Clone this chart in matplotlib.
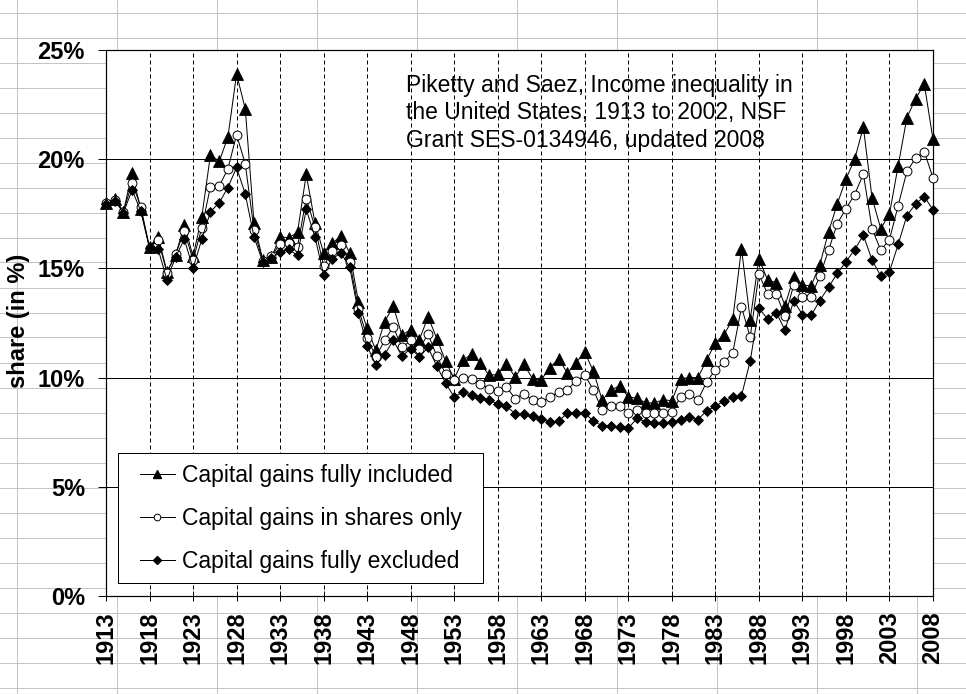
import matplotlib
matplotlib.use('Agg')
import matplotlib.pyplot as plt
from matplotlib.lines import Line2D
from matplotlib.patches import Rectangle
from matplotlib.ticker import FuncFormatter

plt.rcParams['font.family'] = ['Liberation Sans', 'DejaVu Sans']

years = list(range(1913, 2009))

cg_included = [
    18.0, 18.2, 17.6, 19.35, 17.7, 15.96, 16.45, 14.85, 15.6, 17.0,
    15.55, 17.35, 20.2, 19.9, 21.0, 23.9, 22.3, 17.1, 15.4, 15.5,
    16.45, 16.4, 16.65, 19.3, 17.1, 15.7, 16.15, 16.5, 15.7, 13.47,
    12.25, 11.25, 12.55, 13.27, 11.94, 12.2, 11.74, 12.78, 11.79, 10.76,
    9.95, 10.8, 11.07, 10.67, 10.1, 10.15, 10.61, 10.03, 10.61, 9.95,
    9.9, 10.46, 10.87, 10.2, 10.69, 11.16, 10.28, 8.96, 9.42, 9.63,
    9.12, 9.05, 8.85, 8.83, 8.99, 8.94, 9.95, 10.0, 10.0, 10.8,
    11.59, 11.97, 12.68, 15.91, 12.65, 15.45, 14.47, 14.35, 13.29, 14.62,
    14.24, 14.2, 15.17, 16.67, 17.95, 19.09, 20.0, 21.47, 18.23, 16.82,
    17.5, 19.7, 21.9, 22.77, 23.44, 20.91,
]

cg_shares = [
    18.0, 18.15, 17.6, 18.92, 17.82, 15.95, 16.3, 14.8, 15.65, 16.72,
    15.38, 16.85, 18.75, 18.77, 19.55, 21.12, 19.78, 16.77, 15.35, 15.55,
    16.12, 16.15, 16.0, 18.2, 16.9, 15.1, 15.8, 16.07, 15.3, 13.16,
    11.83, 10.95, 11.7, 12.32, 11.38, 11.7, 11.33, 11.99, 10.98, 10.18,
    9.9, 10.0, 9.95, 9.72, 9.5, 9.39, 9.57, 9.04, 9.27, 8.96,
    8.88, 9.11, 9.34, 9.44, 9.85, 10.1, 9.44, 8.5, 8.7, 8.72,
    8.4, 8.52, 8.38, 8.36, 8.38, 8.43, 9.1, 9.24, 8.98, 9.8,
    10.35, 10.71, 11.14, 13.23, 11.86, 14.74, 13.83, 13.83, 12.8, 14.24,
    13.71, 13.71, 14.65, 15.83, 17.05, 17.73, 18.38, 19.32, 16.82, 15.83,
    16.32, 17.88, 19.44, 20.05, 20.35, 19.14,
]

cg_excluded = [
    17.95, 18.1, 17.55, 18.59, 17.62, 15.92, 15.87, 14.47, 15.53, 16.33,
    15.0, 16.33, 17.6, 18.0, 18.7, 19.62, 18.4, 16.45, 15.3, 15.46,
    15.77, 15.87, 15.6, 17.7, 16.45, 14.7, 15.45, 15.7, 15.05, 12.94,
    11.45, 10.57, 11.05, 11.71, 10.98, 11.33, 10.95, 11.38, 10.52, 9.76,
    9.11, 9.34, 9.19, 9.08, 8.96, 8.8, 8.68, 8.35, 8.32, 8.24,
    8.12, 7.97, 8.01, 8.38, 8.4, 8.38, 8.0, 7.8, 7.78, 7.75,
    7.69, 8.13, 7.98, 7.93, 7.92, 7.95, 8.04, 8.18, 8.08, 8.48,
    8.68, 8.94, 9.09, 9.17, 10.76, 13.18, 12.68, 12.98, 12.17, 13.53,
    12.88, 12.85, 13.53, 14.14, 14.77, 15.3, 15.86, 16.52, 15.38, 14.65,
    14.85, 16.1, 17.42, 17.95, 18.29, 17.68,
]

series_labels = [
    "Capital gains fully included",
    "Capital gains in shares only",
    "Capital gains fully excluded",
]
y_ticks = [0, 5, 10, 15, 20, 25]
x_ticks = list(range(1913, 2009, 5))
y_label = "share (in %)"
note = ("Piketty and Saez, Income inequality in\n"
        "the United States, 1913 to 2002, NSF\n"
        "Grant SES-0134946, updated 2008")

W, H = 966, 694
PX = 72.0 / 100.0  # points per pixel at dpi 100


def fx(px):
    return px / W


def fy(py):
    return 1 - py / H


fig = plt.figure(figsize=(W / 100, H / 100), dpi=100)
fig.patch.set_facecolor('white')

# spreadsheet-like background grid
for k in range(28):
    yy = 12.5 + 25 * k
    fig.add_artist(Line2D([0, 1], [fy(yy), fy(yy)], transform=fig.transFigure,
                          color='#c4c4c4', lw=1 * PX, zorder=-5))
for k in range(10):
    xx = 17 + 100 * k
    fig.add_artist(Line2D([fx(xx), fx(xx)], [0, 1], transform=fig.transFigure,
                          color='#c4c4c4', lw=1 * PX, zorder=-5))

ax = fig.add_axes([fx(106), fy(596), fx(933) - fx(106), fy(50) - fy(596)])
ax.set_facecolor('white')
ax.set_xlim(1913, 2008)
ax.set_ylim(0, 25)

for s in ax.spines.values():
    s.set_color('black')
    s.set_linewidth(1.2 * PX)

ax.set_yticks(y_ticks)
ax.yaxis.set_major_formatter(FuncFormatter(lambda v, p: f"{int(v)}%"))
ax.set_xticks(x_ticks)
ax.set_xticklabels([str(x) for x in x_ticks], rotation=90)

ax.tick_params(axis='y', direction='out', length=8 * PX, width=1 * PX, pad=13 * PX,
               labelsize=17, colors='black')
ax.tick_params(axis='x', direction='inout', length=10 * PX, width=1 * PX, pad=10 * PX,
               labelsize=17, colors='black')
for lab in ax.get_xticklabels() + ax.get_yticklabels():
    lab.set_fontweight('bold')

ax.set_axisbelow(True)
for v in y_ticks[1:-1]:
    ax.axhline(v, color='black', lw=1 * PX, zorder=0.5)
for x in x_ticks[1:-1]:
    ax.axvline(x, color='black', lw=1 * PX, ls=(0, (4, 3)), zorder=0.5)

lw = 1 * PX
h1, = ax.plot(years, cg_included, color='black', lw=lw, marker='^', ms=8.0,
              mfc='black', mec='black', mew=0.6, clip_on=False, zorder=3,
              label=series_labels[0])
h2, = ax.plot(years, cg_shares, color='black', lw=lw, marker='o', ms=6.4,
              mfc='white', mec='black', mew=0.7, clip_on=False, zorder=4,
              label=series_labels[1])
h3, = ax.plot(years, cg_excluded, color='black', lw=lw, marker='D', ms=5.2,
              mfc='black', mec='black', mew=0.6, clip_on=False, zorder=5,
              label=series_labels[2])

# legend box
ax.add_patch(Rectangle((fx(118), fy(583)), fx(483) - fx(118), fy(452.7) - fy(583),
                       transform=fig.transFigure, facecolor='white', edgecolor='black',
                       lw=1 * PX, zorder=6, clip_on=False))
leg_handles = [
    Line2D([], [], color='black', lw=lw, marker='^', ms=5.5, mfc='black', mec='black'),
    Line2D([], [], color='black', lw=lw, marker='o', ms=4.8, mfc='white', mec='black', mew=0.7),
    Line2D([], [], color='black', lw=lw, marker='D', ms=4.0, mfc='black', mec='black'),
]
leg = ax.legend(leg_handles, series_labels, loc='upper left',
                bbox_to_anchor=(fx(140), fy(464)), bbox_transform=fig.transFigure,
                frameon=False, borderpad=0, borderaxespad=0,
                handlelength=35 / 23, handletextpad=0.29, labelspacing=0.88,
                prop={'size': 16.5}, numpoints=1)
leg.set_zorder(7)

fig.text(fx(406), fy(74), note, ha='left', va='top', fontsize=16.5,
         linespacing=1.25, color='black')

fig.text(fx(19), fy(321), y_label, rotation=90, ha='center', va='center',
         fontsize=17, fontweight='bold', color='black')

fig.savefig('out.png', dpi=100)
